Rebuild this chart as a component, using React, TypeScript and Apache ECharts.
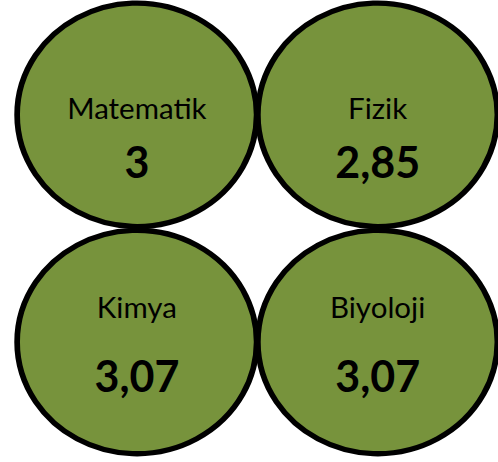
import React, { useEffect, useRef } from "react";
import * as echarts from "echarts";

const subjects = ["Matematik", "Fizik", "Kimya", "Biyoloji"];
const scores = [3, 2.85, 3.07, 3.07];
const columns = ["0", "1"];
const rows = ["0", "1"];

const fmt = (v: number) => String(v).replace(".", ",");

export default function App() {
  const ref = useRef<HTMLDivElement>(null);
  useEffect(() => {
    if (!ref.current) return;
    const chart = echarts.init(ref.current, null, { renderer: "svg" });
    // per-row label layout (top row, bottom row)
    const rowLayout = [
      { off: 20, lh: 54 },
      { off: -1.5, lh: 69 },
    ];
    const data = subjects.map((name, i) => {
      const col = i % 2;
      const row = Math.floor(i / 2);
      const L = rowLayout[row];
      return {
        name,
        value: [columns[col], rows[row], scores[i]],
        label: {
          offset: [0, L.off],
          rich: {
            n: { fontFamily: "Lato", fontSize: 29.5, color: "#000", lineHeight: L.lh, align: "center" },
            v: { fontFamily: "Lato", fontSize: 43, fontWeight: "bold", color: "#000", lineHeight: L.lh, align: "center" },
          },
        },
      };
    });
    chart.setOption({
      animation: false,
      grid: { left: 16.5, top: 1.2, width: 484.6, height: 454.4, containLabel: false },
      xAxis: { type: "category", data: columns, show: false, boundaryGap: true },
      yAxis: { type: "category", data: rows, show: false, inverse: true, boundaryGap: true },
      series: [
        {
          type: "scatter",
          symbol: "circle",
          symbolSize: [239.5, 223.5],
          itemStyle: { color: "#77933C", borderColor: "#000", borderWidth: 5.5, opacity: 1 },
          label: {
            show: true,
            position: "inside",
            formatter: (p: any) => `{n|${p.name}}\n{v|${fmt(p.value[2])}}`,
          },
          emphasis: { disabled: true },
          data,
        },
      ],
    });
    return () => chart.dispose();
  }, []);
  return (
    <div
      ref={ref}
      style={{ position: "fixed", left: 0, top: 0, width: 498, height: 462, background: "#fff" }}
    />
  );
}
